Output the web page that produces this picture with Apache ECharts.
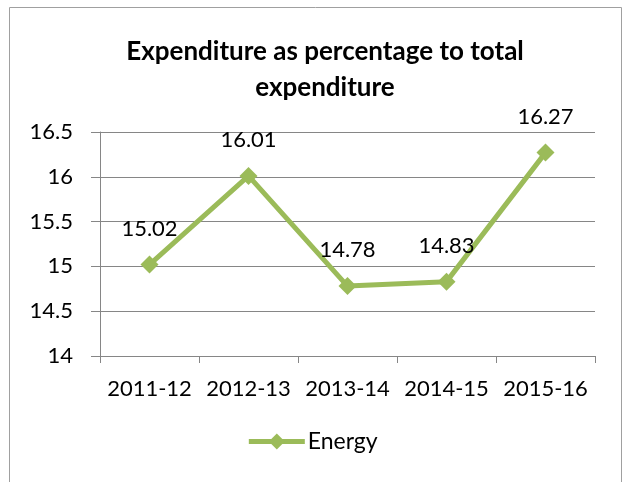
<!DOCTYPE html>
<html>
<head>
<meta charset="utf-8">
<script src="https://cdn.jsdelivr.net/npm/echarts@6/dist/echarts.min.js"></script>
<style>
  html, body { margin: 0; padding: 0; background: #fff; }
  #chart { width: 624px; height: 482px; }
</style>
</head>
<body>
<div id="chart"></div>
<script>
// data
const years = ["2011-12", "2012-13", "2013-14", "2014-15", "2015-16"];
const energy = [15.02, 16.01, 14.78, 14.83, 16.27];
const seriesName = "Energy";
const titleText = "Expenditure as percentage to total\nexpenditure";

const green = "#9BBB59";
const grey = "#868686";
const font = "Lato";

const chart = echarts.init(document.getElementById("chart"));
chart.setOption({
  backgroundColor: "#fff",
  animation: false,
  textStyle: { fontFamily: font },
  graphic: [{
    type: "rect",
    shape: { x: 9.5, y: 7.5, width: 612, height: 480 },
    style: { fill: null, stroke: "#a0a0a0", lineWidth: 1 },
    silent: true
  }],
  title: {
    text: titleText,
    left: 320,
    textAlign: "center",
    top: 29,
    textStyle: { fontFamily: font, fontSize: 26, fontWeight: "bold", color: "#000", lineHeight: 36 }
  },
  legend: {
    bottom: 24,
    left: "center",
    data: [seriesName],
    itemWidth: 56,
    itemHeight: 20,
    lineStyle: { width: 5 },
    itemStyle: { borderWidth: 0 },
    textStyle: { fontFamily: font, fontSize: 23, color: "#000", padding: [0, 0, 0, -2] }
  },
  grid: { left: 100, right: 29, top: 132, bottom: 126 },
  xAxis: {
    type: "category",
    data: years,
    boundaryGap: true,
    axisLine: { lineStyle: { color: grey, width: 1 } },
    axisTick: { show: true, length: 7, lineStyle: { color: grey } },
    axisLabel: { interval: 0, fontFamily: font, fontSize: 22, color: "#000", margin: 22 }
  },
  yAxis: {
    type: "value",
    min: 14,
    max: 16.5,
    interval: 0.5,
    axisLine: { show: true, lineStyle: { color: grey } },
    axisTick: { show: true, length: 9, lineStyle: { color: grey } },
    splitLine: { lineStyle: { color: grey, width: 1 } },
    axisLabel: { fontFamily: font, fontSize: 22, color: "#000", margin: 27 }
  },
  series: [{
    name: seriesName,
    type: "line",
    data: energy,
    symbol: "diamond",
    symbolSize: 18,
    itemStyle: { color: green },
    lineStyle: { color: green, width: 5 },
    label: {
      show: true,
      position: "top",
      distance: 16,
      fontFamily: font,
      fontSize: 22,
      color: "#000"
    }
  }]
});
</script>
</body>
</html>
